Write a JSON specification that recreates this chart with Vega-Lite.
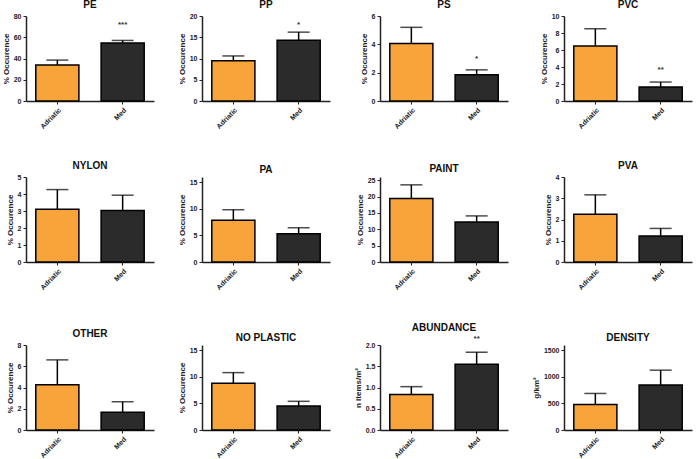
{
  "$schema": "https://vega.github.io/schema/vega-lite/v6.json",
  "padding": {"left": 2, "top": 0, "right": 2, "bottom": 0},
  "background": "white",
  "datasets": {
    "d": [
      {"panel": "PE", "site": "Adriatic", "mean": 34, "upper": 38.5, "star": "", "staty": null},
      {"panel": "PE", "site": "Med", "mean": 54.5, "upper": 57, "star": "***", "staty": 72},
      {"panel": "PP", "site": "Adriatic", "mean": 9.5, "upper": 10.6, "star": "", "staty": null},
      {"panel": "PP", "site": "Med", "mean": 14.3, "upper": 16.2, "star": "*", "staty": 18},
      {"panel": "PS", "site": "Adriatic", "mean": 4.06, "upper": 5.2, "star": "", "staty": null},
      {"panel": "PS", "site": "Med", "mean": 1.85, "upper": 2.2, "star": "*", "staty": 2.95},
      {"panel": "PVC", "site": "Adriatic", "mean": 6.46, "upper": 8.5, "star": "", "staty": null},
      {"panel": "PVC", "site": "Med", "mean": 1.65, "upper": 2.23, "star": "**", "staty": 3.6},
      {"panel": "NYLON", "site": "Adriatic", "mean": 3.1, "upper": 4.26, "star": "", "staty": null},
      {"panel": "NYLON", "site": "Med", "mean": 3.03, "upper": 3.93, "star": "", "staty": null},
      {"panel": "PA", "site": "Adriatic", "mean": 7.85, "upper": 9.84, "star": "", "staty": null},
      {"panel": "PA", "site": "Med", "mean": 5.33, "upper": 6.45, "star": "", "staty": null},
      {"panel": "PAINT", "site": "Adriatic", "mean": 19.4, "upper": 23.6, "star": "", "staty": null},
      {"panel": "PAINT", "site": "Med", "mean": 12.2, "upper": 14.1, "star": "", "staty": null},
      {"panel": "PVA", "site": "Adriatic", "mean": 2.25, "upper": 3.16, "star": "", "staty": null},
      {"panel": "PVA", "site": "Med", "mean": 1.22, "upper": 1.58, "star": "", "staty": null},
      {"panel": "OTHER", "site": "Adriatic", "mean": 4.25, "upper": 6.6, "star": "", "staty": null},
      {"panel": "OTHER", "site": "Med", "mean": 1.66, "upper": 2.66, "star": "", "staty": null},
      {"panel": "NO PLASTIC", "site": "Adriatic", "mean": 8.8, "upper": 10.8, "star": "", "staty": null},
      {"panel": "NO PLASTIC", "site": "Med", "mean": 4.5, "upper": 5.4, "star": "", "staty": null},
      {"panel": "ABUNDANCE", "site": "Adriatic", "mean": 0.836, "upper": 1.02, "star": "", "staty": null},
      {"panel": "ABUNDANCE", "site": "Med", "mean": 1.55, "upper": 1.83, "star": "**", "staty": 2.15},
      {"panel": "DENSITY", "site": "Adriatic", "mean": 480, "upper": 688, "star": "", "staty": null},
      {"panel": "DENSITY", "site": "Med", "mean": 848, "upper": 1126, "star": "", "staty": null}
    ]
  },
  "columns": 4,
  "spacing": {"column": 24, "row": 31},
  "concat": [
    {"title": "PE", "width": 128, "height": 85, "data": {"name": "d"}, "transform": [{"filter": "datum.panel === 'PE'"}],
     "encoding": {"x": {"field": "site", "type": "nominal", "sort": ["Adriatic", "Med"], "scale": {"paddingInner": 0.34, "paddingOuter": 0.15}, "axis": {"title": null, "labelAngle": -45}}},
     "layer": [
      {"mark": {"type": "bar", "stroke": "black", "strokeWidth": 1.5}, "encoding": {"y": {"field": "mean", "type": "quantitative", "scale": {"domain": [0, 80]}, "axis": {"values": [0, 20, 40, 60, 80], "title": "% Occurence"}}, "color": {"field": "site", "type": "nominal", "scale": {"domain": ["Adriatic", "Med"], "range": ["#F9A33B", "#2B2B2B"]}, "legend": null}}},
      {"mark": {"type": "rule", "color": "black", "strokeWidth": 1.5}, "encoding": {"y": {"field": "mean", "type": "quantitative", "axis": {"values": [0, 20, 40, 60, 80], "title": "% Occurence"}}, "y2": {"field": "upper"}}},
      {"mark": {"type": "tick", "orient": "horizontal", "size": 22, "thickness": 1.5, "color": "black"}, "encoding": {"y": {"field": "upper", "type": "quantitative", "axis": {"values": [0, 20, 40, 60, 80], "title": "% Occurence"}}}},
      {"transform": [{"filter": "datum.star !== ''"}], "mark": {"type": "text", "fontSize": 8, "fontWeight": "bold", "color": "#333"}, "encoding": {"y": {"field": "staty", "type": "quantitative", "axis": {"values": [0, 20, 40, 60, 80], "title": "% Occurence"}}, "text": {"field": "star"}}}
     ]},
    {"title": "PP", "width": 128, "height": 85, "data": {"name": "d"}, "transform": [{"filter": "datum.panel === 'PP'"}],
     "encoding": {"x": {"field": "site", "type": "nominal", "sort": ["Adriatic", "Med"], "scale": {"paddingInner": 0.34, "paddingOuter": 0.15}, "axis": {"title": null, "labelAngle": -45}}},
     "layer": [
      {"mark": {"type": "bar", "stroke": "black", "strokeWidth": 1.5}, "encoding": {"y": {"field": "mean", "type": "quantitative", "scale": {"domain": [0, 20]}, "axis": {"values": [0, 5, 10, 15, 20], "title": "% Occurence"}}, "color": {"field": "site", "type": "nominal", "scale": {"domain": ["Adriatic", "Med"], "range": ["#F9A33B", "#2B2B2B"]}, "legend": null}}},
      {"mark": {"type": "rule", "color": "black", "strokeWidth": 1.5}, "encoding": {"y": {"field": "mean", "type": "quantitative", "axis": {"values": [0, 5, 10, 15, 20], "title": "% Occurence"}}, "y2": {"field": "upper"}}},
      {"mark": {"type": "tick", "orient": "horizontal", "size": 22, "thickness": 1.5, "color": "black"}, "encoding": {"y": {"field": "upper", "type": "quantitative", "axis": {"values": [0, 5, 10, 15, 20], "title": "% Occurence"}}}},
      {"transform": [{"filter": "datum.star !== ''"}], "mark": {"type": "text", "fontSize": 8, "fontWeight": "bold", "color": "#333"}, "encoding": {"y": {"field": "staty", "type": "quantitative", "axis": {"values": [0, 5, 10, 15, 20], "title": "% Occurence"}}, "text": {"field": "star"}}}
     ]},
    {"title": "PS", "width": 128, "height": 85, "data": {"name": "d"}, "transform": [{"filter": "datum.panel === 'PS'"}],
     "encoding": {"x": {"field": "site", "type": "nominal", "sort": ["Adriatic", "Med"], "scale": {"paddingInner": 0.34, "paddingOuter": 0.15}, "axis": {"title": null, "labelAngle": -45}}},
     "layer": [
      {"mark": {"type": "bar", "stroke": "black", "strokeWidth": 1.5}, "encoding": {"y": {"field": "mean", "type": "quantitative", "scale": {"domain": [0, 6]}, "axis": {"values": [0, 2, 4, 6], "title": "% Occurence"}}, "color": {"field": "site", "type": "nominal", "scale": {"domain": ["Adriatic", "Med"], "range": ["#F9A33B", "#2B2B2B"]}, "legend": null}}},
      {"mark": {"type": "rule", "color": "black", "strokeWidth": 1.5}, "encoding": {"y": {"field": "mean", "type": "quantitative", "axis": {"values": [0, 2, 4, 6], "title": "% Occurence"}}, "y2": {"field": "upper"}}},
      {"mark": {"type": "tick", "orient": "horizontal", "size": 22, "thickness": 1.5, "color": "black"}, "encoding": {"y": {"field": "upper", "type": "quantitative", "axis": {"values": [0, 2, 4, 6], "title": "% Occurence"}}}},
      {"transform": [{"filter": "datum.star !== ''"}], "mark": {"type": "text", "fontSize": 8, "fontWeight": "bold", "color": "#333"}, "encoding": {"y": {"field": "staty", "type": "quantitative", "axis": {"values": [0, 2, 4, 6], "title": "% Occurence"}}, "text": {"field": "star"}}}
     ]},
    {"title": "PVC", "width": 128, "height": 85, "data": {"name": "d"}, "transform": [{"filter": "datum.panel === 'PVC'"}],
     "encoding": {"x": {"field": "site", "type": "nominal", "sort": ["Adriatic", "Med"], "scale": {"paddingInner": 0.34, "paddingOuter": 0.15}, "axis": {"title": null, "labelAngle": -45}}},
     "layer": [
      {"mark": {"type": "bar", "stroke": "black", "strokeWidth": 1.5}, "encoding": {"y": {"field": "mean", "type": "quantitative", "scale": {"domain": [0, 10]}, "axis": {"values": [0, 2, 4, 6, 8, 10], "title": "% Occurence"}}, "color": {"field": "site", "type": "nominal", "scale": {"domain": ["Adriatic", "Med"], "range": ["#F9A33B", "#2B2B2B"]}, "legend": null}}},
      {"mark": {"type": "rule", "color": "black", "strokeWidth": 1.5}, "encoding": {"y": {"field": "mean", "type": "quantitative", "axis": {"values": [0, 2, 4, 6, 8, 10], "title": "% Occurence"}}, "y2": {"field": "upper"}}},
      {"mark": {"type": "tick", "orient": "horizontal", "size": 22, "thickness": 1.5, "color": "black"}, "encoding": {"y": {"field": "upper", "type": "quantitative", "axis": {"values": [0, 2, 4, 6, 8, 10], "title": "% Occurence"}}}},
      {"transform": [{"filter": "datum.star !== ''"}], "mark": {"type": "text", "fontSize": 8, "fontWeight": "bold", "color": "#333"}, "encoding": {"y": {"field": "staty", "type": "quantitative", "axis": {"values": [0, 2, 4, 6, 8, 10], "title": "% Occurence"}}, "text": {"field": "star"}}}
     ]},
    {"title": "NYLON", "width": 128, "height": 85, "data": {"name": "d"}, "transform": [{"filter": "datum.panel === 'NYLON'"}],
     "encoding": {"x": {"field": "site", "type": "nominal", "sort": ["Adriatic", "Med"], "scale": {"paddingInner": 0.34, "paddingOuter": 0.15}, "axis": {"title": null, "labelAngle": -45}}},
     "layer": [
      {"mark": {"type": "bar", "stroke": "black", "strokeWidth": 1.5}, "encoding": {"y": {"field": "mean", "type": "quantitative", "scale": {"domain": [0, 5]}, "axis": {"values": [0, 1, 2, 3, 4, 5], "title": "% Occurence"}}, "color": {"field": "site", "type": "nominal", "scale": {"domain": ["Adriatic", "Med"], "range": ["#F9A33B", "#2B2B2B"]}, "legend": null}}},
      {"mark": {"type": "rule", "color": "black", "strokeWidth": 1.5}, "encoding": {"y": {"field": "mean", "type": "quantitative", "axis": {"values": [0, 1, 2, 3, 4, 5], "title": "% Occurence"}}, "y2": {"field": "upper"}}},
      {"mark": {"type": "tick", "orient": "horizontal", "size": 22, "thickness": 1.5, "color": "black"}, "encoding": {"y": {"field": "upper", "type": "quantitative", "axis": {"values": [0, 1, 2, 3, 4, 5], "title": "% Occurence"}}}}
     ]},
    {"title": "PA", "width": 128, "height": 85, "data": {"name": "d"}, "transform": [{"filter": "datum.panel === 'PA'"}],
     "encoding": {"x": {"field": "site", "type": "nominal", "sort": ["Adriatic", "Med"], "scale": {"paddingInner": 0.34, "paddingOuter": 0.15}, "axis": {"title": null, "labelAngle": -45}}},
     "layer": [
      {"mark": {"type": "bar", "stroke": "black", "strokeWidth": 1.5}, "encoding": {"y": {"field": "mean", "type": "quantitative", "scale": {"domain": [0, 15]}, "axis": {"values": [0, 5, 10, 15], "title": "% Occurence"}}, "color": {"field": "site", "type": "nominal", "scale": {"domain": ["Adriatic", "Med"], "range": ["#F9A33B", "#2B2B2B"]}, "legend": null}}},
      {"mark": {"type": "rule", "color": "black", "strokeWidth": 1.5}, "encoding": {"y": {"field": "mean", "type": "quantitative", "axis": {"values": [0, 5, 10, 15], "title": "% Occurence"}}, "y2": {"field": "upper"}}},
      {"mark": {"type": "tick", "orient": "horizontal", "size": 22, "thickness": 1.5, "color": "black"}, "encoding": {"y": {"field": "upper", "type": "quantitative", "axis": {"values": [0, 5, 10, 15], "title": "% Occurence"}}}}
     ]},
    {"title": "PAINT", "width": 128, "height": 85, "data": {"name": "d"}, "transform": [{"filter": "datum.panel === 'PAINT'"}],
     "encoding": {"x": {"field": "site", "type": "nominal", "sort": ["Adriatic", "Med"], "scale": {"paddingInner": 0.34, "paddingOuter": 0.15}, "axis": {"title": null, "labelAngle": -45}}},
     "layer": [
      {"mark": {"type": "bar", "stroke": "black", "strokeWidth": 1.5}, "encoding": {"y": {"field": "mean", "type": "quantitative", "scale": {"domain": [0, 25]}, "axis": {"values": [0, 5, 10, 15, 20, 25], "title": "% Occurence"}}, "color": {"field": "site", "type": "nominal", "scale": {"domain": ["Adriatic", "Med"], "range": ["#F9A33B", "#2B2B2B"]}, "legend": null}}},
      {"mark": {"type": "rule", "color": "black", "strokeWidth": 1.5}, "encoding": {"y": {"field": "mean", "type": "quantitative", "axis": {"values": [0, 5, 10, 15, 20, 25], "title": "% Occurence"}}, "y2": {"field": "upper"}}},
      {"mark": {"type": "tick", "orient": "horizontal", "size": 22, "thickness": 1.5, "color": "black"}, "encoding": {"y": {"field": "upper", "type": "quantitative", "axis": {"values": [0, 5, 10, 15, 20, 25], "title": "% Occurence"}}}}
     ]},
    {"title": "PVA", "width": 128, "height": 85, "data": {"name": "d"}, "transform": [{"filter": "datum.panel === 'PVA'"}],
     "encoding": {"x": {"field": "site", "type": "nominal", "sort": ["Adriatic", "Med"], "scale": {"paddingInner": 0.34, "paddingOuter": 0.15}, "axis": {"title": null, "labelAngle": -45}}},
     "layer": [
      {"mark": {"type": "bar", "stroke": "black", "strokeWidth": 1.5}, "encoding": {"y": {"field": "mean", "type": "quantitative", "scale": {"domain": [0, 4]}, "axis": {"values": [0, 1, 2, 3, 4], "title": "% Occurence"}}, "color": {"field": "site", "type": "nominal", "scale": {"domain": ["Adriatic", "Med"], "range": ["#F9A33B", "#2B2B2B"]}, "legend": null}}},
      {"mark": {"type": "rule", "color": "black", "strokeWidth": 1.5}, "encoding": {"y": {"field": "mean", "type": "quantitative", "axis": {"values": [0, 1, 2, 3, 4], "title": "% Occurence"}}, "y2": {"field": "upper"}}},
      {"mark": {"type": "tick", "orient": "horizontal", "size": 22, "thickness": 1.5, "color": "black"}, "encoding": {"y": {"field": "upper", "type": "quantitative", "axis": {"values": [0, 1, 2, 3, 4], "title": "% Occurence"}}}}
     ]},
    {"title": "OTHER", "width": 128, "height": 85, "data": {"name": "d"}, "transform": [{"filter": "datum.panel === 'OTHER'"}],
     "encoding": {"x": {"field": "site", "type": "nominal", "sort": ["Adriatic", "Med"], "scale": {"paddingInner": 0.34, "paddingOuter": 0.15}, "axis": {"title": null, "labelAngle": -45}}},
     "layer": [
      {"mark": {"type": "bar", "stroke": "black", "strokeWidth": 1.5}, "encoding": {"y": {"field": "mean", "type": "quantitative", "scale": {"domain": [0, 8]}, "axis": {"values": [0, 2, 4, 6, 8], "title": "% Occurence"}}, "color": {"field": "site", "type": "nominal", "scale": {"domain": ["Adriatic", "Med"], "range": ["#F9A33B", "#2B2B2B"]}, "legend": null}}},
      {"mark": {"type": "rule", "color": "black", "strokeWidth": 1.5}, "encoding": {"y": {"field": "mean", "type": "quantitative", "axis": {"values": [0, 2, 4, 6, 8], "title": "% Occurence"}}, "y2": {"field": "upper"}}},
      {"mark": {"type": "tick", "orient": "horizontal", "size": 22, "thickness": 1.5, "color": "black"}, "encoding": {"y": {"field": "upper", "type": "quantitative", "axis": {"values": [0, 2, 4, 6, 8], "title": "% Occurence"}}}}
     ]},
    {"title": "NO PLASTIC", "width": 128, "height": 85, "data": {"name": "d"}, "transform": [{"filter": "datum.panel === 'NO PLASTIC'"}],
     "encoding": {"x": {"field": "site", "type": "nominal", "sort": ["Adriatic", "Med"], "scale": {"paddingInner": 0.34, "paddingOuter": 0.15}, "axis": {"title": null, "labelAngle": -45}}},
     "layer": [
      {"mark": {"type": "bar", "stroke": "black", "strokeWidth": 1.5}, "encoding": {"y": {"field": "mean", "type": "quantitative", "scale": {"domain": [0, 15]}, "axis": {"values": [0, 5, 10, 15], "title": "% Occurence"}}, "color": {"field": "site", "type": "nominal", "scale": {"domain": ["Adriatic", "Med"], "range": ["#F9A33B", "#2B2B2B"]}, "legend": null}}},
      {"mark": {"type": "rule", "color": "black", "strokeWidth": 1.5}, "encoding": {"y": {"field": "mean", "type": "quantitative", "axis": {"values": [0, 5, 10, 15], "title": "% Occurence"}}, "y2": {"field": "upper"}}},
      {"mark": {"type": "tick", "orient": "horizontal", "size": 22, "thickness": 1.5, "color": "black"}, "encoding": {"y": {"field": "upper", "type": "quantitative", "axis": {"values": [0, 5, 10, 15], "title": "% Occurence"}}}}
     ]},
    {"title": "ABUNDANCE", "width": 128, "height": 85, "data": {"name": "d"}, "transform": [{"filter": "datum.panel === 'ABUNDANCE'"}],
     "encoding": {"x": {"field": "site", "type": "nominal", "sort": ["Adriatic", "Med"], "scale": {"paddingInner": 0.34, "paddingOuter": 0.15}, "axis": {"title": null, "labelAngle": -45}}},
     "layer": [
      {"mark": {"type": "bar", "stroke": "black", "strokeWidth": 1.5}, "encoding": {"y": {"field": "mean", "type": "quantitative", "scale": {"domain": [0, 2]}, "axis": {"values": [0, 0.5, 1, 1.5, 2], "format": ".1f", "title": "n items/m²"}}, "color": {"field": "site", "type": "nominal", "scale": {"domain": ["Adriatic", "Med"], "range": ["#F9A33B", "#2B2B2B"]}, "legend": null}}},
      {"mark": {"type": "rule", "color": "black", "strokeWidth": 1.5}, "encoding": {"y": {"field": "mean", "type": "quantitative", "axis": {"values": [0, 0.5, 1, 1.5, 2], "format": ".1f", "title": "n items/m²"}}, "y2": {"field": "upper"}}},
      {"mark": {"type": "tick", "orient": "horizontal", "size": 22, "thickness": 1.5, "color": "black"}, "encoding": {"y": {"field": "upper", "type": "quantitative", "axis": {"values": [0, 0.5, 1, 1.5, 2], "format": ".1f", "title": "n items/m²"}}}},
      {"transform": [{"filter": "datum.star !== ''"}], "mark": {"type": "text", "fontSize": 8, "fontWeight": "bold", "color": "#333"}, "encoding": {"y": {"field": "staty", "type": "quantitative", "axis": {"values": [0, 0.5, 1, 1.5, 2], "format": ".1f", "title": "n items/m²"}}, "text": {"field": "star"}}}
     ]},
    {"title": "DENSITY", "width": 128, "height": 85, "data": {"name": "d"}, "transform": [{"filter": "datum.panel === 'DENSITY'"}],
     "encoding": {"x": {"field": "site", "type": "nominal", "sort": ["Adriatic", "Med"], "scale": {"paddingInner": 0.34, "paddingOuter": 0.15}, "axis": {"title": null, "labelAngle": -45}}},
     "layer": [
      {"mark": {"type": "bar", "stroke": "black", "strokeWidth": 1.5}, "encoding": {"y": {"field": "mean", "type": "quantitative", "scale": {"domain": [0, 1500]}, "axis": {"values": [0, 500, 1000, 1500], "format": "d", "title": "g/km²"}}, "color": {"field": "site", "type": "nominal", "scale": {"domain": ["Adriatic", "Med"], "range": ["#F9A33B", "#2B2B2B"]}, "legend": null}}},
      {"mark": {"type": "rule", "color": "black", "strokeWidth": 1.5}, "encoding": {"y": {"field": "mean", "type": "quantitative", "axis": {"values": [0, 500, 1000, 1500], "format": "d", "title": "g/km²"}}, "y2": {"field": "upper"}}},
      {"mark": {"type": "tick", "orient": "horizontal", "size": 22, "thickness": 1.5, "color": "black"}, "encoding": {"y": {"field": "upper", "type": "quantitative", "axis": {"values": [0, 500, 1000, 1500], "format": "d", "title": "g/km²"}}}}
     ]}
  ],
  "resolve": {"scale": {"y": "independent", "x": "independent"}},
  "config": {
    "view": {"stroke": null},
    "font": "Liberation Sans",
    "title": {"fontSize": 10, "fontWeight": "bold", "font": "Liberation Sans", "color": "#111", "offset": 2},
    "axis": {
      "grid": false,
      "domainColor": "#222",
      "domainWidth": 1.5,
      "tickColor": "#222",
      "tickWidth": 1,
      "tickSize": 3,
      "labelFont": "Liberation Sans",
      "labelFontSize": 7,
      "labelFontWeight": "bold",
      "labelColor": "#222",
      "labelOverlap": false,
      "titleFont": "Liberation Sans",
      "titleFontSize": 8,
      "titleFontWeight": "bold",
      "titleColor": "#222",
      "titlePadding": 3,
      "labelPadding": 2
    },
    "axisX": {"labelPadding": 2}
  }
}
